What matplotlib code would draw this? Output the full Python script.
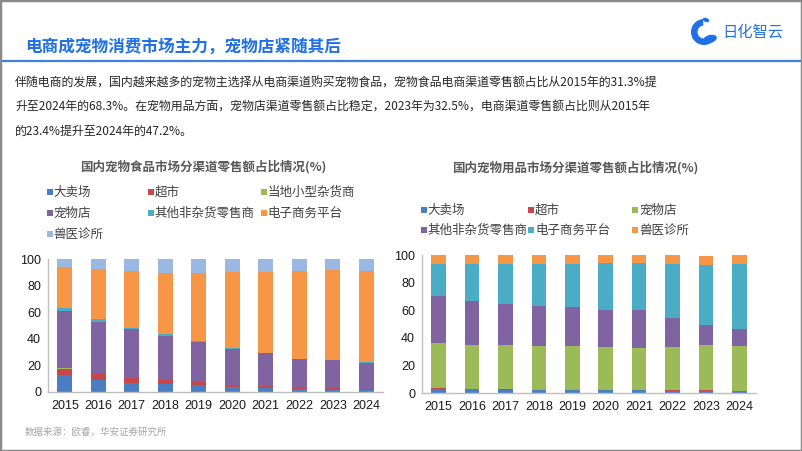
import matplotlib
matplotlib.use("Agg")
import matplotlib.pyplot as plt
from matplotlib.patches import Rectangle, Wedge, Ellipse
import numpy as np

plt.rcParams['font.family'] = ['Noto Sans CJK SC', 'DejaVu Sans']

# ---------------- data ----------------
years = ['2015', '2016', '2017', '2018', '2019', '2020', '2021', '2022', '2023', '2024']

# Left chart: pet food retail share by channel (%)
food_labels = ['大卖场', '超市', '当地小型杂货商', '宠物店', '其他非杂货零售商', '电子商务平台', '兽医诊所']
food_hyper = [12.5, 8.8, 7.0, 6.0, 5.0, 3.8, 3.0, 2.3, 1.8, 1.5]
food_super = [5.0, 4.5, 3.5, 2.8, 2.3, 1.5, 1.5, 0.7, 1.2, 0.8]
food_local = [0.3, 0.3, 0.2, 0.2, 0.2, 0.1, 0.1, 0.1, 0.1, 0.1]
food_pet = [43.0, 39.2, 36.5, 33.2, 30.2, 27.3, 24.5, 21.8, 20.8, 19.7]
food_other = [2.2, 2.2, 1.0, 1.3, 0.7, 0.3, 0.3, 0.2, 0.2, 0.3]
food_ecom = [31.3, 37.5, 42.5, 46.2, 50.8, 57.2, 60.8, 65.6, 67.8, 68.3]
food_vet = [5.7, 7.5, 9.3, 10.3, 10.8, 9.8, 9.8, 9.3, 8.1, 9.3]
food_colors = ['#4A7EC2', '#C9464A', '#9BBB59', '#8064A2', '#4BACC6', '#F79646', '#9AB8E2']

# Right chart: pet supplies retail share by channel (%)
sup_labels = ['大卖场', '超市', '宠物店', '其他非杂货零售商', '电子商务平台', '兽医诊所']
sup_hyper = [2.9, 2.7, 2.4, 2.2, 2.2, 2.0, 2.0, 1.8, 1.8, 1.6]
sup_super = [1.0, 0.5, 0.3, 0.3, 0.2, 0.2, 0.2, 0.2, 0.2, 0.2]
sup_pet = [32.2, 31.5, 31.8, 31.5, 31.6, 31.1, 30.6, 31.3, 32.5, 32.2]
sup_other = [34.0, 31.8, 30.3, 29.1, 28.2, 26.9, 27.4, 21.2, 14.8, 12.3]
sup_ecom = [23.4, 27.0, 28.7, 30.4, 31.3, 34.3, 34.3, 39.0, 43.4, 47.2]
sup_vet = [6.5, 6.5, 6.5, 6.5, 6.5, 5.5, 5.5, 6.5, 6.5, 6.5]
sup_colors = ['#4A7EC2', '#C9464A', '#9BBB59', '#8064A2', '#4BACC6', '#F79646']

W, H = 802, 451
fig = plt.figure(figsize=(W / 100, H / 100), dpi=100)
fig.patch.set_facecolor('white')

def fx(px):
    return px / W

def fy(py):
    return 1 - py / H

# border
fig.patches.append(Rectangle((0, 0), 1, 1, transform=fig.transFigure, fill=False,
                             edgecolor='#8A8A8A', lw=2.5, zorder=10))

# header
fig.text(fx(25), fy(48), '电商成宠物消费市场主力，宠物店紧随其后', fontsize=12,
         fontweight='bold', color='#1F6FE6', va='center', ha='left')
fig.lines.append(plt.Line2D([0, 1], [fy(60.5), fy(60.5)], transform=fig.transFigure,
                            color='#3D7FE2', lw=1.6))

# logo
cx, cy = 704 / 100, (H - 32) / 100
fig.patches.append(Wedge((cx, cy), 0.13, 95, 330, width=0.065, transform=fig.dpi_scale_trans,
                         facecolor='#1F6FE6', edgecolor='none'))
fig.patches.append(Ellipse((cx + 0.06, cy - 0.07), 0.14, 0.08, angle=15,
                           transform=fig.dpi_scale_trans, facecolor='#1F6FE6', edgecolor='none'))
fig.patches.append(Ellipse((cx + 0.02, cy + 0.12), 0.07, 0.04, angle=-20,
                           transform=fig.dpi_scale_trans, facecolor='#1F6FE6', edgecolor='none'))
fig.text(fx(722), fy(32), '日化智云', fontsize=11, color='#1F6FE6', va='center', ha='left')

# body text
body = ['伴随电商的发展，国内越来越多的宠物主选择从电商渠道购买宠物食品，宠物食品电商渠道零售额占比从2015年的31.3%提',
        '升至2024年的68.3%。在宠物用品方面，宠物店渠道零售额占比稳定，2023年为32.5%，电商渠道零售额占比则从2015年',
        '的23.4%提升至2024年的47.2%。']
for i, line in enumerate(body):
    fig.text(fx(15), fy(83 + i * 24), line, fontsize=8.6, color='#262626', va='center', ha='left')

# footer
fig.text(fx(25), fy(432), '数据来源：欧睿，华安证券研究所', fontsize=6.8, color='#A6A6A6',
         va='center', ha='left')


def stacked(ax, series, colors):
    x = np.arange(len(years))
    bottom = np.zeros(len(years))
    for vals, c in zip(series, colors):
        ax.bar(x, vals, bottom=bottom, width=0.44, color=c, edgecolor='none', zorder=2)
        bottom += np.array(vals)
    ax.set_xlim(-0.5, len(years) - 0.5)
    ax.set_ylim(0, 100)
    ax.set_yticks([0, 20, 40, 60, 80, 100])
    ax.set_xticks(x)
    ax.set_xticklabels(years)
    for s in ['top', 'right']:
        ax.spines[s].set_visible(False)
    for s in ['left', 'bottom']:
        ax.spines[s].set_color('#BFBFBF')
        ax.spines[s].set_linewidth(1.0)
    ax.tick_params(axis='both', length=0, labelsize=9, colors='#1A1A1A')
    ax.tick_params(axis='y', pad=5)
    ax.tick_params(axis='x', pad=6)
    for lab in ax.get_xticklabels() + ax.get_yticklabels():
        lab.set_fontfamily(['Liberation Sans', 'DejaVu Sans'])


def legend(labels, colors, cols_x, rows_y):
    for i, (lab, c) in enumerate(zip(labels, colors)):
        r, k = divmod(i, 3)
        sx, sy = cols_x[k], rows_y[r]
        fig.patches.append(Rectangle((fx(sx), fy(sy + 3)), 6 / W, 6 / H, transform=fig.transFigure,
                                     facecolor=c, edgecolor='none'))
        fig.text(fx(sx + 7), fy(sy), lab, fontsize=9.0, color='#404040', va='center', ha='left')


# left chart
ax1 = fig.add_axes([fx(48), fy(392), fx(383) - fx(48), fy(259) - fy(392)])
stacked(ax1, [food_hyper, food_super, food_local, food_pet, food_other, food_ecom, food_vet], food_colors)
fig.text(fx(203), fy(167), '国内宠物食品市场分渠道零售额占比情况(%)', fontsize=9, fontweight='bold',
         color='#595959', ha='center', va='center')
legend(food_labels, food_colors, [46.5, 147.5, 260.5], [192, 213, 234])

# right chart
ax2 = fig.add_axes([fx(422), fy(393), fx(756) - fx(422), fy(255) - fy(393)])
stacked(ax2, [sup_hyper, sup_super, sup_pet, sup_other, sup_ecom, sup_vet], sup_colors)
fig.text(fx(575), fy(168), '国内宠物用品市场分渠道零售额占比情况(%)', fontsize=9, fontweight='bold',
         color='#595959', ha='center', va='center')
legend(sup_labels, sup_colors, [420.5, 528, 632], [210, 230])

fig.savefig('out.png', dpi=100, facecolor='white')
